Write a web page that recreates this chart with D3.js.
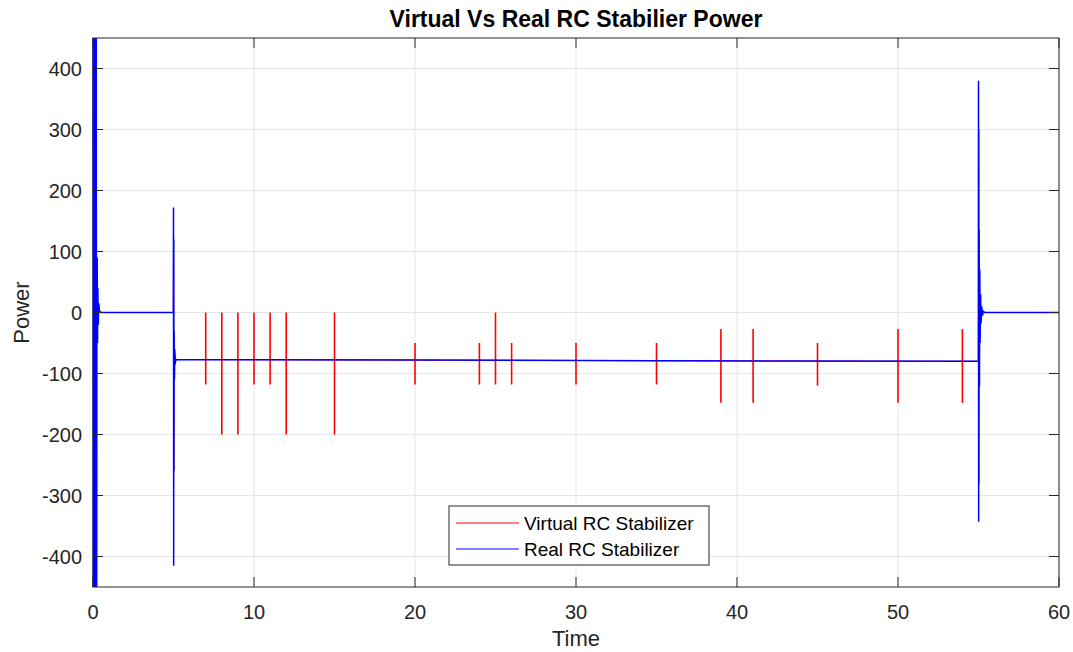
<!DOCTYPE html>
<html>
<head>
<meta charset="utf-8">
<script src="https://cdn.jsdelivr.net/npm/d3@7"></script>
<style>
  body { margin: 0; background: #fff; }
  svg { display: block; font-family: "Liberation Sans", Arial, sans-serif; }
</style>
</head>
<body>
<div id="chart"></div>
<script>
// --- data ---
const xTicks = [0, 10, 20, 30, 40, 50, 60];
const yTicks = [-400, -300, -200, -100, 0, 100, 200, 300, 400];

// Real RC stabilizer (blue) trace: time / power pairs
const realTime = [0, 0.02, 0.04, 0.06, 0.08, 0.10, 0.12, 0.14, 0.16, 0.18, 0.20, 0.22,
  0.24, 0.26, 0.28, 0.30, 0.33, 0.36, 0.4, 0.5,
  4.99, 5.0, 5.01, 5.02, 5.03, 5.04, 5.06, 5.08, 5.1, 5.15,
  20, 35, 54.99,
  55.0, 55.01, 55.02, 55.03, 55.04, 55.06, 55.08, 55.1, 55.13, 55.16, 55.2, 55.25, 55.3, 55.4, 60];
const realPower = [900, -900, 900, -900, 900, -900, 900, -900, 900, -900, 900, -900,
  -25, 90, -50, 40, -20, 15, 3, 0,
  0, 172, -415, 120, -260, -30, -110, -60, -85, -77,
  -78, -79, -80,
  380, -343, 300, -280, 136, -121, 70, -50, 30, -18, 10, -5, 2, 0, 0];

// Virtual RC stabilizer (red): baseline plus switching spikes
const virtBaseTime = [0, 4.99, 5.0, 5.01, 5.03, 5.15, 20, 35, 54.99, 55.0, 60];
const virtBasePower = [0, 0, 125, -260, -60, -77, -78, -79, -80, 0, 0];
const spikeTime = [7, 8, 9, 10, 11, 12, 15, 20, 24, 25, 26, 30, 35, 39, 41, 45, 50, 54];
const spikeHigh = [0, 0, 0, 0, 0, 0, 0, -50, -50, 0, -50, -50, -50, -27, -27, -50, -27, -27];
const spikeLow = [-118, -200, -200, -118, -118, -200, -200, -118, -118, -118, -118, -118, -118, -148, -148, -120, -148, -148];

const seriesNames = ["Virtual RC Stabilizer", "Real RC Stabilizer"];
const seriesColors = ["#ff0000", "#0000ff"];

// --- layout ---
const width = 1073, height = 652;
const margin = { top: 38, right: 14, bottom: 65, left: 93 };
const innerW = width - margin.left - margin.right;
const innerH = height - margin.top - margin.bottom;
const axisColor = "#262626";

const svg = d3.select("#chart").append("svg")
  .attr("width", width)
  .attr("height", height);

const x = d3.scaleLinear().domain([0, 60]).range([0, innerW]);
const y = d3.scaleLinear().domain([-450, 450]).range([innerH, 0]);

const g = svg.append("g").attr("transform", `translate(${margin.left},${margin.top})`);

// grid
g.append("g").selectAll("line").data(xTicks).join("line")
  .attr("x1", d => x(d)).attr("x2", d => x(d))
  .attr("y1", 0).attr("y2", innerH)
  .attr("stroke", "#e6e6e6");
g.append("g").selectAll("line").data(yTicks).join("line")
  .attr("x1", 0).attr("x2", innerW)
  .attr("y1", d => y(d)).attr("y2", d => y(d))
  .attr("stroke", "#e6e6e6");

// clip a little wider than the box so the band at t=0 keeps its left edge
svg.append("clipPath").attr("id", "clip")
  .append("rect").attr("x", -2).attr("width", innerW + 2).attr("height", innerH);

const plot = g.append("g").attr("clip-path", "url(#clip)");

const line = d3.line().x(d => x(d[0])).y(d => y(d[1]));

// red baseline, then the spike verticals
plot.append("path")
  .datum(virtBaseTime.map((t, i) => [t, virtBasePower[i]]))
  .attr("fill", "none")
  .attr("stroke", seriesColors[0])
  .attr("stroke-width", 1)
  .attr("d", line);

plot.append("g").selectAll("line").data(spikeTime).join("line")
  .attr("x1", d => x(d)).attr("x2", d => x(d))
  .attr("y1", (d, i) => y(spikeHigh[i]))
  .attr("y2", (d, i) => y(spikeLow[i]))
  .attr("stroke", seriesColors[0])
  .attr("stroke-width", 1.6);

// blue on top
plot.append("path")
  .datum(realTime.map((t, i) => [t, realPower[i]]))
  .attr("fill", "none")
  .attr("stroke", seriesColors[1])
  .attr("stroke-width", 1.5)
  .attr("d", line);

// axes box
g.append("rect")
  .attr("width", innerW).attr("height", innerH)
  .attr("fill", "none").attr("stroke", axisColor).attr("stroke-width", 1);

// inward ticks on all sides
const tickLen = 10;
const ticks = g.append("g").attr("stroke", axisColor);
xTicks.forEach(t => {
  ticks.append("line").attr("x1", x(t)).attr("x2", x(t)).attr("y1", innerH).attr("y2", innerH - tickLen);
  ticks.append("line").attr("x1", x(t)).attr("x2", x(t)).attr("y1", 0).attr("y2", tickLen);
});
yTicks.forEach(t => {
  ticks.append("line").attr("x1", 0).attr("x2", tickLen).attr("y1", y(t)).attr("y2", y(t));
  ticks.append("line").attr("x1", innerW).attr("x2", innerW - tickLen).attr("y1", y(t)).attr("y2", y(t));
});

// tick labels
g.append("g").selectAll("text").data(xTicks).join("text")
  .attr("x", d => x(d)).attr("y", innerH + 32)
  .attr("text-anchor", "middle")
  .attr("font-size", 20).attr("fill", axisColor)
  .text(d => d);
g.append("g").selectAll("text").data(yTicks).join("text")
  .attr("x", -11).attr("y", d => y(d) + 7)
  .attr("text-anchor", "end")
  .attr("font-size", 20).attr("fill", axisColor)
  .text(d => d);

// axis labels + title
svg.append("text")
  .attr("x", margin.left + innerW / 2).attr("y", 646)
  .attr("text-anchor", "middle").attr("font-size", 22).attr("fill", axisColor)
  .text("Time");
svg.append("text")
  .attr("transform", `translate(29,${margin.top + y(0)}) rotate(-90)`)
  .attr("text-anchor", "middle").attr("font-size", 22).attr("fill", axisColor)
  .text("Power");
svg.append("text")
  .attr("x", margin.left + innerW / 2).attr("y", 27)
  .attr("text-anchor", "middle").attr("font-size", 23).attr("font-weight", "bold")
  .attr("fill", "#000")
  .text("Virtual Vs Real RC Stabilier Power");

// legend
const legend = svg.append("g").attr("transform", "translate(449,506)");
legend.append("rect")
  .attr("width", 260).attr("height", 59)
  .attr("fill", "#fff").attr("stroke", axisColor);
seriesNames.forEach((name, i) => {
  const ly = 17 + i * 26;
  legend.append("line")
    .attr("x1", 7).attr("x2", 70).attr("y1", ly).attr("y2", ly)
    .attr("stroke", seriesColors[i]).attr("stroke-width", 1);
  legend.append("text")
    .attr("x", 75).attr("y", ly + 7)
    .attr("font-size", 19).attr("fill", "#000")
    .text(name);
});
</script>
</body>
</html>
